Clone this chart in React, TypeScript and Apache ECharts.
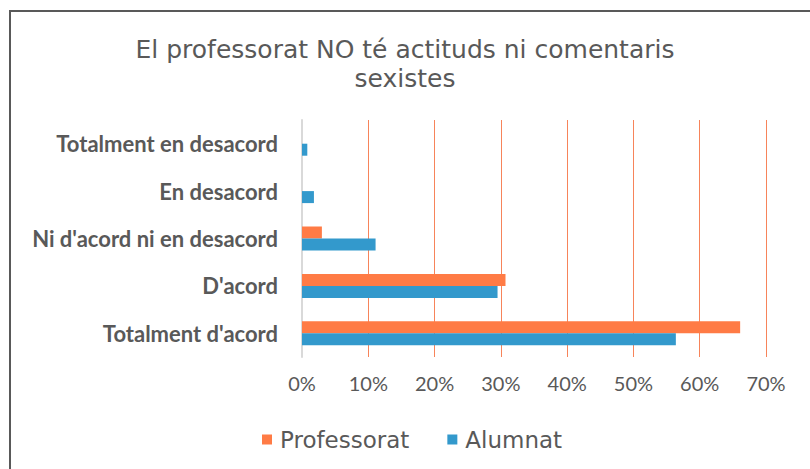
import React, { useEffect, useRef } from "react";
import * as echarts from "echarts";

const categories = [
  "Totalment d'acord",
  "D'acord",
  "Ni d'acord ni en desacord",
  "En desacord",
  "Totalment en desacord",
];
const professorat = [66.1, 30.7, 3.0, 0, 0];
const alumnat = [56.4, 29.5, 11.1, 1.8, 0.8];
const titleText = "El professorat NO té actituds ni comentaris\nsexistes";
const seriesNames = ["Professorat", "Alumnat"];

export default function App() {
  const ref = useRef<HTMLDivElement>(null);
  useEffect(() => {
    if (!ref.current) return;
    const chart = echarts.init(ref.current, undefined, { renderer: "svg" });
    const grey = "#595959";
    chart.setOption({
      animation: false,
      backgroundColor: "#ffffff",
      title: {
        text: titleText,
        left: "center",
        top: 30,
        textStyle: {
          fontFamily: "DejaVu Sans",
          fontSize: 25,
          fontWeight: "normal",
          color: grey,
          lineHeight: 29,
        },
      },
      legend: {
        data: seriesNames,
        left: 262,
        top: 428,
        padding: 0,
        itemWidth: 10,
        itemHeight: 10,
        itemGap: 38,
        icon: "rect",
        textStyle: {
          fontFamily: "DejaVu Sans",
          fontSize: 23,
          color: grey,
          padding: [0, 0, 0, 3],
        },
      },
      grid: { left: 302, right: 44, top: 120, bottom: 112, containLabel: false },
      xAxis: {
        type: "value",
        min: 0,
        max: 70,
        interval: 10,
        axisLine: { show: false },
        axisTick: { show: false },
        splitLine: { lineStyle: { color: "#F7845A", width: 1 } },
        axisLabel: {
          formatter: "{value}%",
          fontFamily: "Lato",
          fontSize: 20,
          color: grey,
          margin: 16,
        },
      },
      yAxis: {
        type: "category",
        data: categories,
        axisLine: { show: true, lineStyle: { color: "#D9D9D9", width: 2 } },
        axisTick: { show: false },
        axisLabel: {
          fontFamily: "Lato",
          fontWeight: "bold",
          fontSize: 22,
          color: grey,
          margin: 24,
        },
      },
      series: [
        {
          name: "Professorat",
          type: "bar",
          data: professorat,
          barWidth: 12,
          barGap: "0%",
          itemStyle: { color: "#FF7B45" },
        },
        {
          name: "Alumnat",
          type: "bar",
          data: alumnat,
          barWidth: 12,
          barGap: "0%",
          itemStyle: { color: "#3399CC" },
        },
      ],
      graphic: [
        {
          type: "rect",
          shape: { x: 10, y: 11, width: 900, height: 600 },
          style: { fill: "none", stroke: "#595959", lineWidth: 2 },
          silent: true,
        },
      ],
    });
    return () => chart.dispose();
  }, []);
  return (
    <div
      ref={ref}
      style={{ position: "fixed", left: 0, top: 0, width: 810, height: 469 }}
    />
  );
}
